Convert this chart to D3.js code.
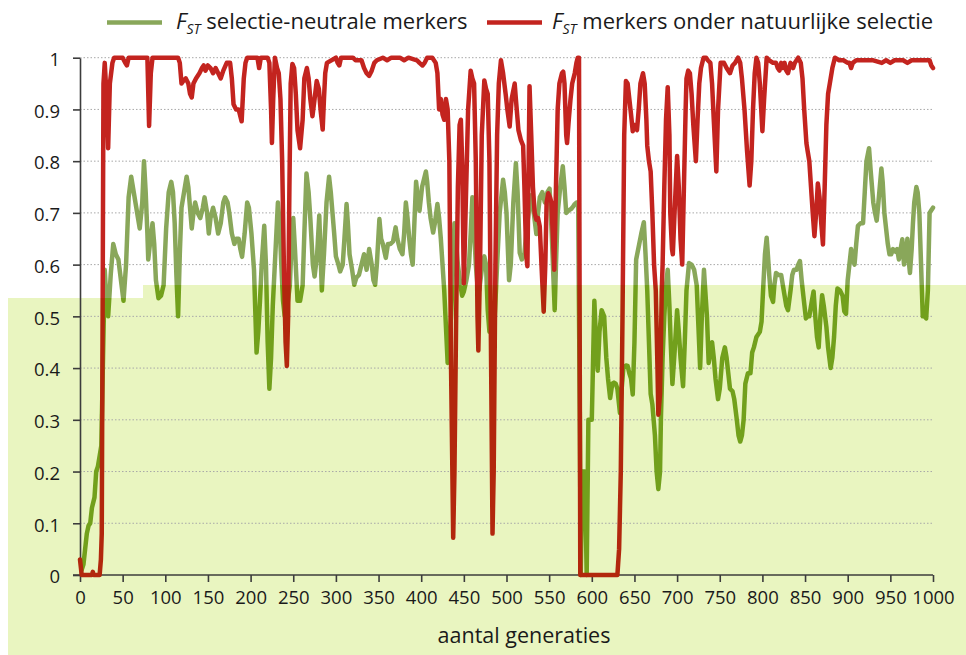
<!DOCTYPE html>
<html>
<head>
<meta charset="utf-8">
<script src="https://cdn.jsdelivr.net/npm/d3@7"></script>
<style>
  body { margin: 0; background: #fff; }
  svg { display: block; font-family: "Open Sans", sans-serif; }
</style>
</head>
<body>
<svg id="chart" width="966" height="655"></svg>
<script>
// FST over generations

var xTicks = [0, 50, 100, 150, 200, 250, 300, 350, 400, 450, 500, 550, 600, 650, 700, 750, 800, 850, 900, 950, 1000];
var yTicks = [0, 0.1, 0.2, 0.3, 0.4, 0.5, 0.6, 0.7, 0.8, 0.9, 1];

var neutralLabel = " selectie-neutrale merkers";
var selectionLabel = " merkers onder natuurlijke selectie";
var xTitle = "aantal generaties";

// selection-neutral markers
var neutralGen = [
  2, 4, 6, 8, 10, 12, 14, 17, 19, 21, 23, 25, 27, 29, 31, 33, 36, 39, 42, 45, 48, 51, 54, 57, 60, 63, 66, 68, 70, 73, 75, 77, 79, 80, 82, 85, 87, 89, 92, 95, 98,
  101, 104, 107, 109, 111, 113, 115, 117, 119, 122, 125, 127, 129, 131, 133, 135, 138, 141, 144, 146, 149, 151, 153, 156, 159, 162, 165, 168, 170, 173, 175, 178, 181, 183, 186, 188, 190, 193, 196, 198,
  201, 204, 207, 209, 211, 213, 216, 218, 220, 222, 224, 226, 229, 232, 234, 236, 238, 240, 243, 246, 248, 250, 252, 255, 258, 261, 263, 265.5, 268, 270, 273, 275, 278, 280.5, 283.5, 286, 289, 292, 294, 296, 298,
  300, 303, 305, 308, 310, 312.5, 314, 316, 319, 321.5, 324, 327, 330, 333, 336, 339, 342, 344, 346, 348, 351, 353, 355, 358.5, 361, 364, 367, 370, 372, 375, 378, 380, 382, 384, 386, 388, 390, 392, 394, 396, 398,
  401, 405.5, 407, 409, 411, 414, 416, 419, 421, 423, 425, 427, 429, 431, 433, 435, 437, 439, 441, 443, 446, 448, 450, 453, 456, 458, 460, 462, 464, 466, 468, 471, 474, 476, 478, 480, 483, 486, 489, 492, 496, 498,
  500, 503, 505, 508, 511, 513, 515.5, 518, 521, 523, 526, 529, 532, 535, 537, 539, 542, 545, 548, 550.5, 553, 556.5, 558, 560, 563, 566, 568, 570, 573, 576, 578, 580, 582, 584, 586, 587, 589, 592, 594, 596,
  600, 603, 605, 607, 609, 611.5, 614.5, 617, 619, 621.5, 624, 626, 628, 630, 633, 635, 637, 640, 642, 644, 646, 648, 650, 652, 655.5, 658, 661, 663, 665, 667, 669, 671, 674, 676, 678, 680, 681, 683, 685, 687, 689, 691, 692.5, 694.5, 697,
  700, 702, 704, 707, 709, 711, 714, 717, 720, 723, 725, 727, 729, 731.5, 733, 735, 737, 739, 741, 743, 745, 748, 750, 753, 756, 758, 760, 762, 765, 767, 770, 772, 774, 776, 778, 780, 783, 786, 788, 790, 793, 797, 799,
  801, 803, 805, 806, 808, 810, 812.5, 814, 816, 819, 822, 824, 826, 828, 830, 833, 835, 837, 840, 842, 844, 846, 848, 851, 853, 855, 858, 860, 862, 864, 866, 868, 870, 872, 875, 877, 880, 882, 884, 886, 888, 891, 894, 896, 898,
  900, 902, 904, 906, 908, 910, 912, 915, 918, 920, 922, 925, 927, 930, 932, 934, 936, 939.5, 941, 943, 945, 947, 949, 951, 953, 956, 958, 960, 962, 964, 966, 968, 970, 972, 973, 975, 976.5, 978, 980.5, 982, 984, 986, 988, 990, 992, 994, 996, 998, 1000
];
var neutralFst = [
  0.01, 0.02, 0.05, 0.08, 0.095, 0.1, 0.13, 0.15, 0.2, 0.21, 0.23, 0.25, 0.42, 0.59, 0.53, 0.5, 0.58, 0.64, 0.62, 0.61, 0.57, 0.53, 0.6, 0.73, 0.77, 0.74, 0.71, 0.69, 0.67, 0.72, 0.8, 0.74, 0.66, 0.61, 0.64, 0.68, 0.64, 0.57, 0.535, 0.54, 0.56,
  0.67, 0.74, 0.76, 0.74, 0.68, 0.58, 0.5, 0.62, 0.71, 0.74, 0.77, 0.75, 0.71, 0.67, 0.7, 0.72, 0.7, 0.69, 0.71, 0.73, 0.7, 0.66, 0.69, 0.71, 0.69, 0.66, 0.68, 0.72, 0.73, 0.72, 0.7, 0.66, 0.64, 0.65, 0.65, 0.63, 0.615, 0.66, 0.72, 0.71,
  0.66, 0.59, 0.43, 0.47, 0.53, 0.6, 0.675, 0.6, 0.45, 0.36, 0.42, 0.52, 0.62, 0.72, 0.68, 0.6, 0.53, 0.5, 0.52, 0.56, 0.64, 0.69, 0.63, 0.53, 0.53, 0.56, 0.66, 0.776, 0.74, 0.69, 0.6, 0.577, 0.62, 0.695, 0.55, 0.62, 0.72, 0.77, 0.74, 0.7, 0.66,
  0.616, 0.6, 0.587, 0.6, 0.65, 0.717, 0.68, 0.62, 0.59, 0.561, 0.575, 0.58, 0.6, 0.62, 0.59, 0.63, 0.6, 0.57, 0.561, 0.6, 0.688, 0.65, 0.64, 0.613, 0.64, 0.64, 0.645, 0.672, 0.65, 0.63, 0.62, 0.66, 0.72, 0.69, 0.65, 0.62, 0.6, 0.68, 0.76, 0.73, 0.704,
  0.75, 0.78, 0.76, 0.72, 0.69, 0.662, 0.68, 0.717, 0.69, 0.65, 0.6, 0.55, 0.48, 0.41, 0.45, 0.5, 0.58, 0.68, 0.64, 0.6, 0.56, 0.54, 0.548, 0.57, 0.6, 0.66, 0.73, 0.67, 0.6, 0.56, 0.55, 0.59, 0.616, 0.6, 0.512, 0.47, 0.47, 0.49, 0.6, 0.7, 0.764, 0.74,
  0.7, 0.57, 0.6, 0.72, 0.796, 0.74, 0.623, 0.61, 0.62, 0.66, 0.7, 0.734, 0.7, 0.659, 0.7, 0.73, 0.74, 0.72, 0.74, 0.747, 0.66, 0.512, 0.6, 0.7, 0.75, 0.79, 0.75, 0.7, 0.705, 0.708, 0.712, 0.717, 0.72, 0.72, 0.3, 0, 0.2, 0.2, 0, 0.3,
  0.3, 0.53, 0.45, 0.395, 0.47, 0.512, 0.5, 0.42, 0.38, 0.342, 0.37, 0.372, 0.37, 0.36, 0.313, 0.36, 0.4, 0.405, 0.404, 0.39, 0.38, 0.349, 0.45, 0.61, 0.639, 0.66, 0.682, 0.62, 0.55, 0.45, 0.35, 0.33, 0.27, 0.2, 0.166, 0.2, 0.3, 0.42, 0.5, 0.56, 0.59, 0.52, 0.45, 0.369, 0.43,
  0.512, 0.47, 0.42, 0.365, 0.45, 0.55, 0.603, 0.6, 0.59, 0.56, 0.48, 0.4, 0.5, 0.59, 0.55, 0.5, 0.41, 0.43, 0.45, 0.42, 0.38, 0.34, 0.36, 0.42, 0.44, 0.42, 0.39, 0.36, 0.355, 0.34, 0.3, 0.27, 0.258, 0.27, 0.3, 0.37, 0.39, 0.39, 0.43, 0.44, 0.46, 0.47, 0.49,
  0.557, 0.62, 0.652, 0.63, 0.58, 0.54, 0.528, 0.56, 0.584, 0.58, 0.58, 0.56, 0.54, 0.52, 0.512, 0.55, 0.58, 0.59, 0.59, 0.6, 0.607, 0.57, 0.54, 0.496, 0.5, 0.5, 0.53, 0.548, 0.5, 0.46, 0.44, 0.5, 0.541, 0.52, 0.48, 0.44, 0.4, 0.42, 0.46, 0.52, 0.554, 0.55, 0.54, 0.51, 0.505,
  0.57, 0.6, 0.63, 0.61, 0.6, 0.64, 0.675, 0.68, 0.68, 0.74, 0.8, 0.825, 0.78, 0.72, 0.7, 0.685, 0.72, 0.786, 0.76, 0.7, 0.67, 0.64, 0.62, 0.62, 0.63, 0.625, 0.63, 0.61, 0.63, 0.649, 0.6, 0.62, 0.65, 0.6, 0.584, 0.63, 0.68, 0.72, 0.75, 0.74, 0.7, 0.6, 0.5, 0.5, 0.496, 0.55, 0.7, 0.705, 0.71
];

// markers under natural selection
var selGen = [
  0, 2, 14, 15, 16, 23, 24.5, 25.5, 26.5, 27.5, 29, 31, 33, 35, 38, 40, 50, 53, 55, 57, 79, 81, 83, 85,
  115, 117, 119, 121, 124, 127, 129, 131, 133, 136, 140, 143, 145, 147, 150, 153, 156, 159, 162, 165, 168, 172, 176, 178, 180, 183, 186, 189.5, 192, 194, 196,
  208, 210, 212, 220, 222, 224, 225, 226.5, 228.5, 231, 233, 235, 237, 239, 241, 242.5, 244, 245.5, 247, 249, 251, 253, 255, 258, 261, 263, 266, 268, 270, 272.5, 275, 277.5, 280, 282, 284.5, 286, 287.5, 289.5,
  300, 302, 304, 306, 320, 323, 330, 333, 336, 339, 342, 345, 348, 355, 360, 365, 375, 380, 385, 395, 398,
  401.5, 404, 407, 413, 417, 419, 421, 423, 425, 427, 429, 431, 433, 435, 437.5, 439, 441, 443, 445, 446.5, 448, 450, 452, 455, 458, 460, 462, 464, 466, 467, 469, 471, 474, 476, 478, 480, 482, 483.6, 485, 487, 489, 491, 493.5, 496, 499,
  501, 503.7, 506, 509.6, 511, 514, 517, 519.5, 521, 523, 524.5, 526, 527, 529, 531, 533, 535, 537, 539, 541, 543.6, 545.5, 547, 549, 551, 552.6, 554.5, 556, 558, 560, 562, 565, 566.5, 568, 570, 571, 573, 575, 577, 580, 582, 583.5, 585, 586.5,
  630, 632, 634, 636, 638, 640, 642, 644, 646, 648, 650, 653, 655, 657, 660, 662, 664, 665, 667, 669, 671, 673, 675, 677, 678, 680, 682, 683, 685, 687, 689, 691, 692, 694, 695, 697,
  700, 702, 704, 706, 708, 710, 711, 713, 715, 717, 719, 722, 724, 726, 728, 731, 734, 736, 739, 741, 743, 746, 748, 751, 755, 758, 762, 765, 768, 771.5, 774, 776, 779, 782, 785, 787, 789, 791, 793, 795, 797,
  800, 802, 805, 808, 812.5, 816, 818, 820, 822, 824, 826, 828, 830, 833, 836, 838, 842, 845, 847, 849, 851.6, 853, 855, 857, 859, 861, 863, 865, 867, 869, 871, 873, 875, 877, 879, 882, 885, 890, 895,
  900, 902, 904, 906, 910, 920, 930, 940, 945, 950, 955, 960, 965, 970, 975, 980, 990, 996, 998, 1000
];
var selFst = [
  0.03, 0, 0, 0.006, 0, 0, 0.03, 0.08, 0.5, 0.95, 0.99, 0.93, 0.825, 0.95, 0.99, 1, 1, 0.99, 0.985, 1, 1, 0.868, 0.97, 1,
  1, 0.99, 0.95, 0.955, 0.96, 0.95, 0.93, 0.923, 0.95, 0.96, 0.97, 0.98, 0.985, 0.975, 0.985, 0.98, 0.97, 0.98, 0.97, 0.96, 0.975, 0.99, 0.99, 0.96, 0.91, 0.9, 0.9, 0.877, 0.96, 0.99, 1,
  1, 0.98, 1, 1, 0.99, 0.9, 0.835, 0.92, 1, 0.98, 0.97, 0.92, 0.8, 0.6, 0.45, 0.404, 0.5, 0.75, 0.95, 0.988, 0.98, 0.93, 0.86, 0.825, 0.88, 0.96, 0.98, 0.96, 0.92, 0.887, 0.92, 0.955, 0.94, 0.9, 0.861, 0.92, 0.97, 0.99,
  1, 0.99, 0.985, 1, 1, 0.995, 0.995, 0.98, 0.97, 0.965, 0.975, 0.99, 0.995, 1, 0.995, 1, 1, 0.995, 1, 0.995, 0.99,
  0.985, 0.99, 1, 1, 0.99, 0.97, 0.9, 0.92, 0.89, 0.88, 0.92, 0.9, 0.8, 0.4, 0.072, 0.2, 0.5, 0.75, 0.87, 0.88, 0.8, 0.564, 0.7, 0.9, 0.975, 0.96, 0.95, 0.8, 0.5, 0.434, 0.6, 0.85, 0.956, 0.94, 0.93, 0.8, 0.4, 0.08, 0.2, 0.6, 0.85, 0.95, 0.995, 0.97, 0.93,
  0.9, 0.867, 0.92, 0.95, 0.92, 0.86, 0.84, 0.83, 0.75, 0.62, 0.597, 0.8, 0.945, 0.85, 0.75, 0.7, 0.687, 0.69, 0.674, 0.6, 0.509, 0.6, 0.72, 0.738, 0.73, 0.72, 0.65, 0.59, 0.75, 0.9, 0.95, 0.97, 0.973, 0.95, 0.85, 0.835, 0.88, 0.919, 0.95, 0.97, 0.99, 1, 1, 0,
  0, 0.05, 0.2, 0.5, 0.85, 0.955, 0.95, 0.92, 0.89, 0.858, 0.87, 0.86, 0.9, 0.95, 0.97, 0.95, 0.88, 0.83, 0.8, 0.78, 0.7, 0.6, 0.55, 0.4, 0.31, 0.35, 0.55, 0.6, 0.75, 0.88, 0.943, 0.85, 0.7, 0.63, 0.62, 0.7,
  0.81, 0.75, 0.65, 0.6, 0.75, 0.9, 0.96, 0.975, 0.97, 0.93, 0.87, 0.8, 0.88, 0.95, 0.98, 1, 1, 0.995, 0.99, 0.95, 0.88, 0.78, 0.9, 0.99, 0.99, 0.98, 0.97, 0.985, 0.99, 1, 0.99, 0.96, 0.9, 0.82, 0.753, 0.8, 0.9, 0.97, 1, 0.99, 0.95,
  0.858, 0.92, 1, 0.995, 0.99, 0.99, 0.98, 0.975, 0.99, 0.98, 0.99, 0.975, 0.97, 0.99, 0.98, 0.99, 1, 0.99, 0.96, 0.9, 0.835, 0.82, 0.8, 0.75, 0.7, 0.655, 0.7, 0.757, 0.73, 0.68, 0.639, 0.75, 0.87, 0.93, 0.95, 0.98, 1, 0.995, 0.995,
  0.99, 0.99, 0.98, 0.99, 0.995, 0.995, 0.995, 0.99, 0.995, 0.99, 0.995, 0.995, 0.995, 0.99, 0.995, 0.995, 0.995, 0.995, 0.985, 0.98
];

var width = 966;
var height = 655;

var svg = d3.select("#chart");
var x = d3.scaleLinear().domain([0, 1000]).range([80, 933]);
var y = d3.scaleLinear().domain([0, 1]).range([575, 57.7]);

// shaded band in the lower part of the picture
var bandTop = 285, bandTopLeft = 298, bandStep = 143, bandLeft = 8;
var bandPts = [[bandLeft, bandTopLeft], [bandStep, bandTopLeft], [bandStep, bandTop], [width, bandTop], [width, height], [bandLeft, height]];
var outPts = [[0, 0], [width, 0], [width, bandTop], [bandStep, bandTop], [bandStep, bandTopLeft], [bandLeft, bandTopLeft], [bandLeft, height], [0, height]];

var defs = svg.append("defs");
defs.append("clipPath").attr("id", "clip-in")
  .append("polygon").attr("points", bandPts.map(p => p.join(",")).join(" "));
defs.append("clipPath").attr("id", "clip-out")
  .append("polygon").attr("points", outPts.map(p => p.join(",")).join(" "));

svg.append("rect").attr("width", width).attr("height", height).attr("fill", "#fff");
svg.append("polygon")
  .attr("points", bandPts.map(p => p.join(",")).join(" "))
  .attr("fill", "#e9f5c0");

// gridlines
svg.append("g")
  .selectAll("line")
  .data(yTicks.filter(d => d > 0))
  .join("line")
  .attr("x1", x(0)).attr("x2", x(1000))
  .attr("y1", d => y(d)).attr("y2", d => y(d))
  .attr("stroke", "#a8a8a8")
  .attr("stroke-width", 1)
  .attr("stroke-dasharray", "1.5,2");

// axes
var axisColor = "#3c3c3c";
var gx = svg.append("g")
  .attr("transform", `translate(0,${y(0)})`)
  .call(d3.axisBottom(x).tickValues(xTicks).tickFormat(d3.format("d")).tickSize(7).tickSizeOuter(0).tickPadding(9));
var gy = svg.append("g")
  .attr("transform", `translate(${x(0)},0)`)
  .call(d3.axisLeft(y).tickValues(yTicks).tickFormat(d => String(d)).tickSize(7).tickSizeOuter(0).tickPadding(13));

[gx, gy].forEach(g => {
  g.select(".domain").attr("stroke", axisColor).attr("stroke-width", 1.6);
  g.selectAll(".tick line").attr("stroke", axisColor).attr("stroke-width", 1.6);
  g.selectAll(".tick text")
    .attr("fill", "#1a1a1a")
    .style("font-family", "'Open Sans', sans-serif")
    .style("font-size", "18.5px");
});
gx.select(".domain").attr("d", `M${x(0) - 7},0H${x(1000)}`);
gy.selectAll(".tick text").attr("dy", "0.42em");

svg.append("text")
  .attr("x", 524)
  .attr("y", 643)
  .attr("text-anchor", "middle")
  .attr("fill", "#1a1a1a")
  .style("font-size", "21.5px")
  .text(xTitle);

// lines, drawn twice: plain colours above the band, deeper ones inside it
var neutral = d3.zip(neutralGen, neutralFst);
var selection = d3.zip(selGen, selFst);
var line = d3.line().x(d => x(d[0])).y(d => y(d[1]));

var series = [
  { data: neutral, out: "#89a75a", inn: "#72a01c" },
  { data: selection, out: "#c3241f", inn: "#b2270d" }
];

["out", "inn"].forEach(part => {
  var g = svg.append("g").attr("clip-path", part === "out" ? "url(#clip-out)" : "url(#clip-in)");
  series.forEach(s => {
    g.append("path")
      .datum(s.data)
      .attr("d", line)
      .attr("fill", "none")
      .attr("stroke", s[part])
      .attr("stroke-width", 4.5)
      .attr("stroke-linejoin", "round")
      .attr("stroke-linecap", "round");
  });
});

// legend
var legend = [
  { x: 107, tx: 176, color: "#89a75a", label: neutralLabel },
  { x: 487, tx: 552, color: "#c3241f", label: selectionLabel }
];
legend.forEach(l => {
  svg.append("line")
    .attr("x1", l.x).attr("x2", l.x + 55)
    .attr("y1", 22.5).attr("y2", 22.5)
    .attr("stroke", l.color)
    .attr("stroke-width", 4.5);
  var t = svg.append("text")
    .attr("x", l.tx)
    .attr("y", 29)
    .attr("fill", "#1a1a1a")
    .style("font-size", "22px");
  t.append("tspan").style("font-style", "italic").text("F");
  t.append("tspan").style("font-style", "italic").style("font-size", "14px").attr("dy", 5).text("ST");
  t.append("tspan").attr("dy", -5).text(l.label);
});
</script>
</body>
</html>
